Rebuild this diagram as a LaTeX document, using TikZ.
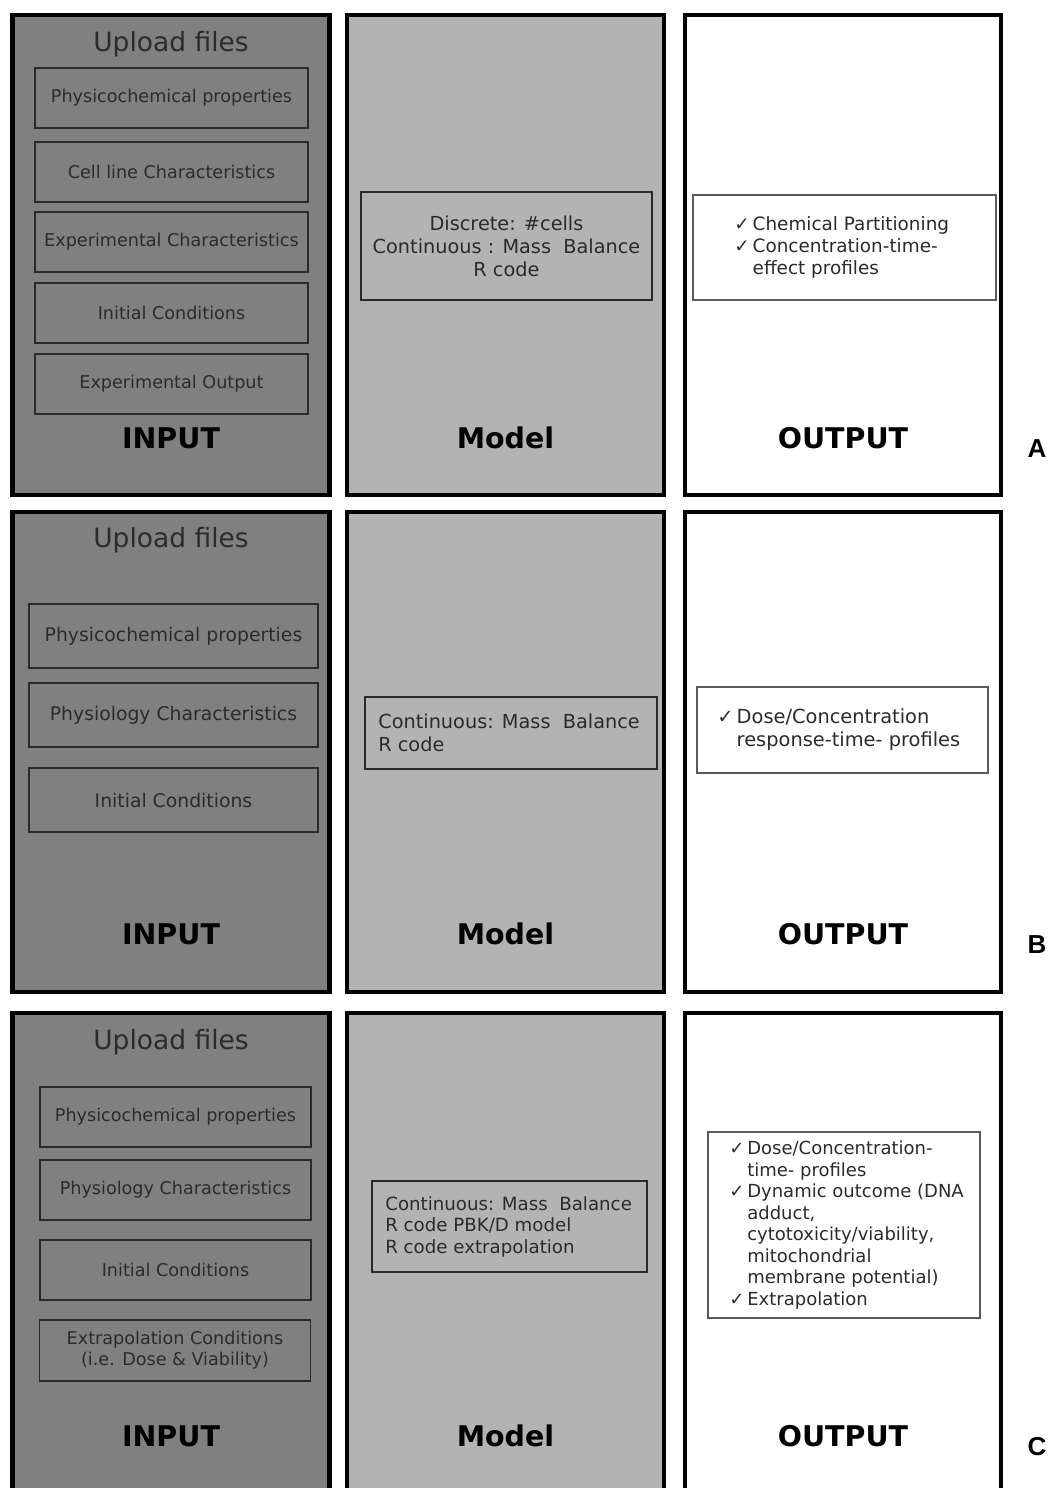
\documentclass[tikz,border=0pt]{standalone}
\usepackage{fontspec}
\setmainfont{DejaVu Sans}
\newfontfamily\rowfont{Liberation Sans}
\definecolor{inputgray}{HTML}{808080}
\definecolor{modelgray}{HTML}{B3B3B3}
\definecolor{boxline}{HTML}{2A2A2A}
\definecolor{outline}{HTML}{5A5A5A}
\definecolor{textgray}{HTML}{2B2B2B}
\newcommand{\chk}{\makebox[1em][l]{✓}}
\newcommand{\ind}{\hspace*{1em}}
\tikzset{
  panel/.style={draw=black,line width=4.5pt,minimum width=317pt,minimum height=480pt,inner sep=0pt},
  filebox/.style={draw=boxline,line width=1.8pt,fill=inputgray,text=textgray,align=center,inner sep=0pt},
  modelbox/.style={draw=boxline,line width=1.8pt,fill=modelgray,inner sep=0pt},
  outbox/.style={draw=outline,line width=1.8pt,fill=white,inner sep=0pt},
  bodytext/.style={text=textgray,inner sep=0pt},
  heading/.style={font=\fontsize{28.5}{30}\selectfont\bfseries,text=black,inner sep=0pt,anchor=base},
  upload/.style={font=\fontsize{26.5}{30}\selectfont,text=textgray,inner sep=0pt,anchor=base},
  rowlabel/.style={font=\fontsize{26}{28}\rowfont\bfseries,inner sep=0pt,anchor=base}
}
\begin{document}
\begin{tikzpicture}[x=1pt,y=-1pt]
\useasboundingbox (0,0) rectangle (1050,1488);

% three rows of panels: input, model, output
\foreach \r/\y in {A/255,B/752,C/1253} {
    \node[panel,fill=inputgray] (in\r) at (171,\y) {};
    \node[panel,fill=modelgray] (model\r) at (505.5,\y) {};
    \node[panel,fill=white,minimum width=316pt] (out\r) at (843,\y) {};
}
\foreach \r/\y in {A/448,B/944,C/1446} {
    \node[heading] (inhead\r) at (171,\y) {INPUT};
    \node[heading] (modelhead\r) at (505.5,\y) {Model};
    \node[heading] (outhead\r) at (843,\y) {OUTPUT};
    \node[rowlabel] (label\r) at (1037,\y+9.5) {\r};
}
\foreach \r/\y in {A/52,B/547,C/1049}
    \node[upload] (upload\r) at (171,\y) {Upload files};

% row A
\foreach \n/\y/\t in {1/98/Physicochemical properties,2/172/Cell line Characteristics,3/242/Experimental Characteristics,4/313/Initial Conditions,5/384/Experimental Output}
    \node[filebox,minimum width=273pt,minimum height=60pt,font=\fontsize{17.6}{21}\selectfont] (fileA\n) at (171.5,\y) {\t};
\node[modelbox,minimum width=291pt,minimum height=108pt] (codeA) at (506.5,246) {};
\node[bodytext,align=center,font=\fontsize{19.3}{23}\selectfont] (codeAtext) at (codeA) {Discrete: \#cells\\Continuous : Mass~~Balance\\R code};
\node[outbox,minimum width=303pt,minimum height=105pt] (resA) at (844.5,247.5) {};
\node[bodytext,align=left,anchor=west,font=\fontsize{18.4}{22}\selectfont] (resAtext) at ([xshift=42pt]resA.west)
    {\chk Chemical Partitioning\\\chk Concentration-time-\\\ind effect profiles};

% row B
\foreach \n/\y/\t in {1/636/Physicochemical properties,2/715/Physiology Characteristics,3/800/Initial Conditions}
    \node[filebox,minimum width=289pt,minimum height=64pt,font=\fontsize{18.8}{22}\selectfont] (fileB\n) at (173.5,\y) {\t};
\node[modelbox,minimum width=292pt,minimum height=72pt] (codeB) at (511,733) {};
\node[bodytext,align=left,anchor=west,font=\fontsize{19.3}{23}\selectfont] (codeBtext) at ([xshift=14pt]codeB.west)
    {Continuous: Mass~~Balance\\R code};
\node[outbox,minimum width=291pt,minimum height=86pt] (resB) at (842.5,730) {};
\node[bodytext,align=left,anchor=west,font=\fontsize{19.4}{23}\selectfont] (resBtext) at ([xshift=21pt]resB.west)
    {\chk Dose/Concentration\\\ind response-time- profiles};

% row C
\foreach \n/\y/\t in {1/1117/Physicochemical properties,2/1190/Physiology Characteristics,3/1270/Initial Conditions}
    \node[filebox,minimum width=271pt,minimum height=60pt,font=\fontsize{17.6}{21}\selectfont] (fileC\n) at (175.5,\y) {\t};
\node[filebox,minimum width=271pt,minimum height=61pt,font=\fontsize{17.6}{21}\selectfont] (fileC4) at (175,1350.5)
    {Extrapolation Conditions\\(i.e. Dose \& Viability)};
\node[modelbox,minimum width=275pt,minimum height=91pt] (codeC) at (509.5,1226.5) {};
\node[bodytext,align=left,anchor=west,font=\fontsize{18.2}{21.5}\selectfont] (codeCtext) at ([xshift=14pt]codeC.west)
    {Continuous: Mass~~Balance\\R code PBK/D model\\R code extrapolation};
\node[outbox,minimum width=272pt,minimum height=186pt] (resC) at (844,1225) {};
\node[bodytext,align=left,anchor=west,font=\fontsize{18}{21.5}\selectfont] (resCtext) at ([xshift=22pt]resC.west)
    {\chk Dose/Concentration-\\\ind time- profiles\\\chk Dynamic outcome (DNA\\\ind adduct,\\\ind cytotoxicity/viability,\\\ind mitochondrial\\\ind membrane potential)\\\chk Extrapolation};
\end{tikzpicture}
\end{document}
